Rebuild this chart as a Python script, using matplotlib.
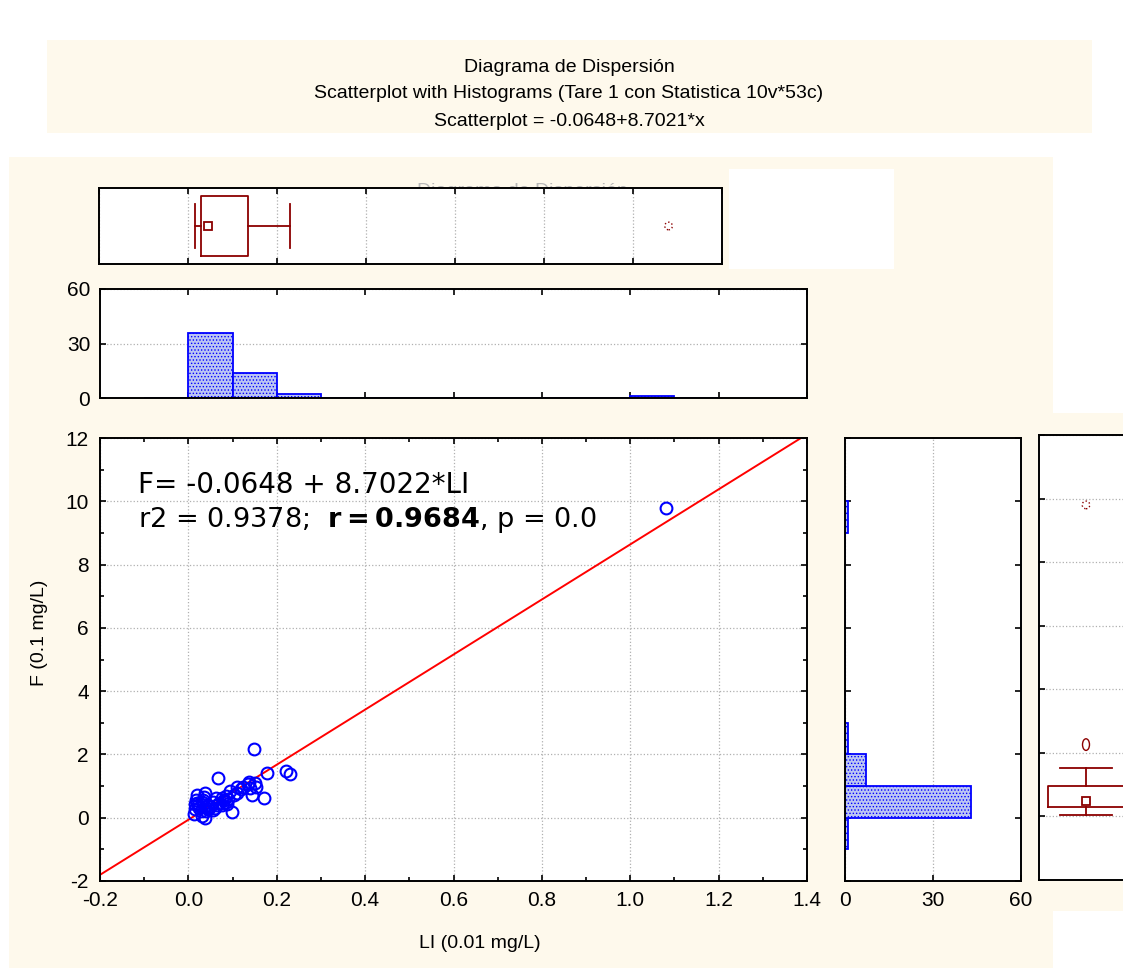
import numpy as np
import matplotlib.pyplot as plt
from matplotlib.patches import Rectangle
from matplotlib.markers import MarkerStyle
from matplotlib.transforms import Affine2D
from matplotlib.ticker import MultipleLocator, FormatStrFormatter

# --- data ---
li = [0.148, 0.067, 0.178, 0.222, 0.231, 0.138, 0.135, 0.151, 0.152, 0.145,
      0.172, 0.109, 0.094, 0.103, 0.098, 0.063, 0.075, 0.056, 0.037, 0.019,
      0.015, 0.012, 0.031, 0.037, 0.033, 0.038, 0.045, 0.088, 0.022, 0.015,
      0.086, 0.109, 0.123, 1.080,
      0.020, 0.025, 0.030, 0.040, 0.045, 0.050, 0.055, 0.060, 0.070, 0.080,
      0.085, 0.090, 0.035, 0.028, 0.018, 0.065, 0.075, 0.120, 0.140]
f = [2.18, 1.25, 1.42, 1.48, 1.37, 1.14, 1.05, 1.09, 0.97, 0.73,
     0.61, 0.96, 0.84, 0.71, 0.19, 0.61, 0.39, 0.24, 0.78, 0.71,
     0.42, 0.11, 0.06, -0.02, 0.56, 0.35, 0.27, 0.44, 0.39, 0.27,
     0.68, 0.78, 0.98, 9.80,
     0.45, 0.30, 0.50, 0.20, 0.40, 0.35, 0.50, 0.30, 0.45, 0.55,
     0.50, 0.60, 0.65, 0.20, 0.55, 0.40, 0.62, 0.90, 0.95]

intercept, slope = -0.0648, 8.7022

# histogram of LI (bin starts, width 0.1)
li_bins = [-0.1, 0.0, 0.1, 0.2, 0.3, 0.4, 0.5, 0.6, 0.7, 0.8, 0.9, 1.0, 1.1]
li_counts = [0, 36, 14, 2, 0, 0, 0, 0, 0, 0, 0, 1, 0]
# histogram of F (bin starts, width 1)
f_bins = [-1, 0, 1, 2, 3, 4, 5, 6, 7, 8, 9]
f_counts = [1, 43, 7, 1, 0, 0, 0, 0, 0, 0, 1]

# box plot statistics (median / quartiles / non-outlier range)
li_box = dict(whislo=0.016, q1=0.030, med=0.045, q3=0.135, whishi=0.230)
li_extremes = [1.08]
f_box = dict(whislo=0.03, q1=0.29, med=0.50, q3=0.95, whishi=1.53)
f_outliers = [2.26]
f_extremes = [9.8]

W, H = 1123, 968
cream = '#fef9ec'
dred = '#8b0000'
blue = '#0000ff'
plt.rcParams['font.family'] = ['Liberation Sans', 'DejaVu Sans']
plt.rcParams['axes.unicode_minus'] = False
plt.rcParams['hatch.linewidth'] = 0.6
plt.rcParams['hatch.color'] = blue


def rect(x0, y0, x1, y1):
    return [x0 / W, 1 - y1 / H, (x1 - x0) / W, (y1 - y0) / H]


fig = plt.figure(figsize=(W / 100, H / 100), dpi=100)

# background panels
for r in [rect(47, 40, 1092, 133), rect(9, 157, 1053, 968), rect(1053, 413, 1123, 911)]:
    fig.add_artist(Rectangle((r[0], r[1]), r[2], r[3], transform=fig.transFigure,
                             facecolor=cream, edgecolor='none', zorder=-10))
r = rect(729, 169, 894, 269)
fig.add_artist(Rectangle((r[0], r[1]), r[2], r[3], transform=fig.transFigure,
                         facecolor='white', edgecolor='none', zorder=-5))
# chart title mostly hidden behind the box plot
fig.text(522 / W, 1 - 191 / H, 'Diagrama de Dispersión', ha='center', va='center',
         fontsize=14, color='#b8b8b8', zorder=-4)

fig.text(569 / W, 1 - 67 / H, 'Diagrama de Dispersión', ha='center', va='center', fontsize=14)
fig.text(569 / W, 1 - 94 / H, 'Scatterplot with Histograms (Tare 1 con Statistica 10v*53c)',
         ha='center', va='center', fontsize=14)
fig.text(569 / W, 1 - 121 / H, 'Scatterplot = -0.0648+8.7021*x', ha='center', va='center', fontsize=14)


def style(ax):
    for s in ax.spines.values():
        s.set_linewidth(1.4)
    ax.tick_params(which='both', direction='in', top=True, right=True, labelsize=15,
                   width=1.2, color='black', pad=7)
    ax.tick_params(which='major', length=4)
    ax.tick_params(which='minor', length=3)
    ax.set_facecolor('white')


grid_kw = dict(color='#b0b0b0', linestyle=':', linewidth=0.9)

# main scatter
ax = fig.add_axes(rect(100, 438, 807, 881))
style(ax)
ax.set_xlim(-0.2, 1.4)
ax.set_ylim(-2, 12)
ax.xaxis.set_major_locator(MultipleLocator(0.2))
ax.xaxis.set_minor_locator(MultipleLocator(0.1))
ax.yaxis.set_major_locator(MultipleLocator(2))
ax.yaxis.set_minor_locator(MultipleLocator(1))
ax.xaxis.set_major_formatter(FormatStrFormatter('%.1f'))
ax.tick_params(axis='y', pad=8)
ax.grid(True, which='major', **grid_kw)
ax.set_axisbelow(True)
xl = np.array([-0.2, 1.4])
ax.plot(xl, intercept + slope * xl, color='red', linewidth=1.4)
ax.plot(li, f, linestyle='none', marker='o', markersize=8.5, markerfacecolor='none',
        markeredgecolor=blue, markeredgewidth=1.5)
ax.set_xlabel('LI (0.01 mg/L)', fontsize=14, va='center', ha='center')
ax.xaxis.set_label_coords(0.537, -0.14)
ax.set_ylabel('F (0.1 mg/L)', fontsize=14, va='center', ha='center')
ax.yaxis.set_label_coords(-0.085, 0.56)
ax.text(-0.114, 10.5, 'F= -0.0648 + 8.7022*LI', fontsize=20, va='center',
        family='DejaVu Sans')
ax.text(-0.114, 9.4, r'r2 = 0.9378;  $\mathbf{r = 0.9684}$, p = 0.0', fontsize=19.5,
        va='center', family='DejaVu Sans')

# top histogram
axh = fig.add_axes(rect(100, 289, 807, 398))
style(axh)
axh.bar(li_bins, li_counts, width=0.1, align='edge', facecolor='#bcc5f3',
        edgecolor=blue, linewidth=1.3, hatch='.....')
axh.set_xlim(-0.2, 1.4)
axh.set_ylim(0, 60)
axh.set_yticks([0, 30, 60])
axh.xaxis.set_major_locator(MultipleLocator(0.2))
axh.tick_params(labelbottom=False)
axh.yaxis.grid(True, **grid_kw)
axh.set_axisbelow(True)

# top box plot
axb = fig.add_axes(rect(99, 188, 722, 264))
style(axb)
axb.set_xlim(-0.2, 1.2)
axb.set_ylim(0, 1)
axb.xaxis.set_major_locator(MultipleLocator(0.2))
axb.tick_params(labelbottom=False, left=False, right=False, labelleft=False)
axb.xaxis.grid(True, **grid_kw)
axb.set_axisbelow(True)
st = dict(li_box, mean=li_box['med'], fliers=[])
axb.bxp([st], positions=[0.5], widths=[0.8], capwidths=[0.58], orientation='horizontal',
        showmeans=True, showfliers=False,
        boxprops=dict(color=dred, linewidth=1.3),
        whiskerprops=dict(color=dred, linewidth=1.3),
        capprops=dict(color=dred, linewidth=1.3),
        medianprops=dict(linewidth=0),
        meanprops=dict(marker='s', markerfacecolor='none', markeredgecolor=dred,
                       markersize=6, markeredgewidth=1.3))
axb.scatter(li_extremes, [0.5] * len(li_extremes), s=30, facecolors='none',
            edgecolors=dred, linestyles=':', linewidths=1.0)

# right histogram
axr = fig.add_axes(rect(845, 438, 1021, 881))
style(axr)
axr.barh(f_bins, f_counts, height=1, align='edge', facecolor='#bcc5f3',
         edgecolor=blue, linewidth=1.3, hatch='.....')
axr.set_xlim(0, 60)
axr.set_ylim(-2, 12)
axr.set_xticks([0, 30, 60])
axr.yaxis.set_major_locator(MultipleLocator(2))
axr.tick_params(labelleft=False, top=False)
axr.xaxis.grid(True, **grid_kw)
axr.set_axisbelow(True)

# right box plot
axq = fig.add_axes(rect(1039, 435, 1133, 880))
style(axq)
axq.set_xlim(0, 1)
axq.set_ylim(-2, 12)
axq.yaxis.set_major_locator(MultipleLocator(2))
axq.tick_params(labelleft=False, bottom=False, top=False, labelbottom=False, right=False)
axq.yaxis.grid(True, **grid_kw)
axq.set_axisbelow(True)
st = dict(f_box, mean=f_box['med'], fliers=[])
axq.bxp([st], positions=[0.5], widths=[0.81], capwidths=[0.56], orientation='vertical',
        showmeans=True, showfliers=False,
        boxprops=dict(color=dred, linewidth=1.3),
        whiskerprops=dict(color=dred, linewidth=1.3),
        capprops=dict(color=dred, linewidth=1.3),
        medianprops=dict(linewidth=0),
        meanprops=dict(marker='s', markerfacecolor='none', markeredgecolor=dred,
                       markersize=6, markeredgewidth=1.3))
oval = MarkerStyle('o', transform=Affine2D().scale(0.6, 1.0))
axq.scatter([0.5] * len(f_outliers), f_outliers, marker=oval, s=70, facecolors='none',
            edgecolors=dred, linewidths=1.0)
axq.scatter([0.5] * len(f_extremes), f_extremes, s=30, facecolors='none',
            edgecolors=dred, linestyles=':', linewidths=1.0)

fig.savefig('out.png', dpi=100)
